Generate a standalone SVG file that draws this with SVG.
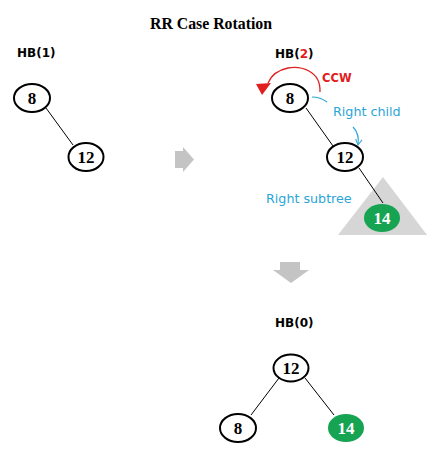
<svg xmlns="http://www.w3.org/2000/svg" width="439" height="461" viewBox="0 0 439 461">
<defs>
<style>
.node ellipse{fill:#fff;stroke:#000;stroke-width:2}
.node.g ellipse{fill:#16a452;stroke:none}
.nt{font-family:"Liberation Serif",serif;font-weight:bold;font-size:17px;text-anchor:middle;fill:#000}
.node.g .nt{fill:#fff}
.hb{font-family:"DejaVu Sans","Liberation Sans",sans-serif;font-weight:bold;font-size:12px;fill:#000}
.blue{font-family:"DejaVu Sans","Liberation Sans",sans-serif;font-size:12.7px;fill:#2aa5d8}
.edge{stroke:#000;stroke-width:1;fill:none}
.garrow{fill:#c4c4c4}
</style>
<marker id="bh" viewBox="0 0 10 10" refX="8" refY="5" markerWidth="8" markerHeight="8" orient="auto" markerUnits="userSpaceOnUse">
<path d="M1,1 L8,5 L1,9" fill="none" stroke="#2aa5d8" stroke-width="1.2"/>
</marker>
</defs>
<rect width="439" height="461" fill="#fff"/>
<text x="211" y="29" font-family="Liberation Serif,serif" font-weight="bold" font-size="15.8" text-anchor="middle">RR Case Rotation</text>

<text class="hb" x="17" y="57">HB(1)</text>
<text class="hb" x="275" y="58">HB(<tspan fill="#e02020">2</tspan>)</text>
<text class="hb" x="275" y="327">HB(0)</text>

<polygon id="subtree" points="383,177 338,235 427,235" fill="#d6d6d6"/>

<g id="connectors">
<line class="edge" x1="46" y1="108" x2="73" y2="145"/>
<line class="edge" x1="306" y1="108" x2="333" y2="146"/>
<line class="edge" x1="359" y1="168" x2="383" y2="203"/>
<line class="edge" x1="279" y1="378" x2="251" y2="415"/>
<line class="edge" x1="305" y1="378" x2="334" y2="415"/>
<path d="M320,92 C321,70 300,66 288,68 C278,70 271,76 268,83" fill="none" stroke="#e02020" stroke-width="1.3"/>
<polygon points="256,84 271,83 262,95" fill="#e02020"/>
<path d="M312,97 C318,97 323,99 327,102" fill="none" stroke="#2aa5d8" stroke-width="1.2"/>
<path d="M353,127 C358,132 359,138 358,145" fill="none" stroke="#2aa5d8" stroke-width="1.2" marker-end="url(#bh)"/>
<polygon class="garrow" points="175,151 183,151 183,147 194,159.5 183,172 183,168 175,168"/>
<polygon class="garrow" points="280,262 300,262 300,270 309,270 291,283 273,270 280,270"/>
</g>

<text x="322" y="82" font-family="DejaVu Sans,Liberation Sans,sans-serif" font-weight="bold" font-size="11.5" fill="#e02020">CCW</text>
<text class="blue" x="333" y="116">Right child</text>
<text class="blue" x="266" y="203">Right subtree</text>

<g id="n8a" class="node"><ellipse cx="32" cy="98" rx="18" ry="14"/><text class="nt" x="32" y="104">8</text></g>
<g id="n12a" class="node"><ellipse cx="86" cy="157" rx="17.5" ry="14"/><text class="nt" x="86" y="163">12</text></g>
<g id="n8b" class="node"><ellipse cx="290" cy="98" rx="18" ry="14"/><text class="nt" x="290" y="104">8</text></g>
<g id="n12b" class="node"><ellipse cx="345" cy="157" rx="18" ry="14"/><text class="nt" x="345" y="163">12</text></g>
<g id="n14b" class="node g"><ellipse cx="382" cy="218" rx="18" ry="14"/><text class="nt" x="382" y="224">14</text></g>
<g id="n12c" class="node"><ellipse cx="291" cy="368" rx="17.5" ry="13.5"/><text class="nt" x="291" y="374">12</text></g>
<g id="n8c" class="node"><ellipse cx="238" cy="428" rx="18" ry="14"/><text class="nt" x="238" y="434">8</text></g>
<g id="n14c" class="node g"><ellipse cx="346" cy="428" rx="18" ry="14"/><text class="nt" x="346" y="434">14</text></g>
</svg>
